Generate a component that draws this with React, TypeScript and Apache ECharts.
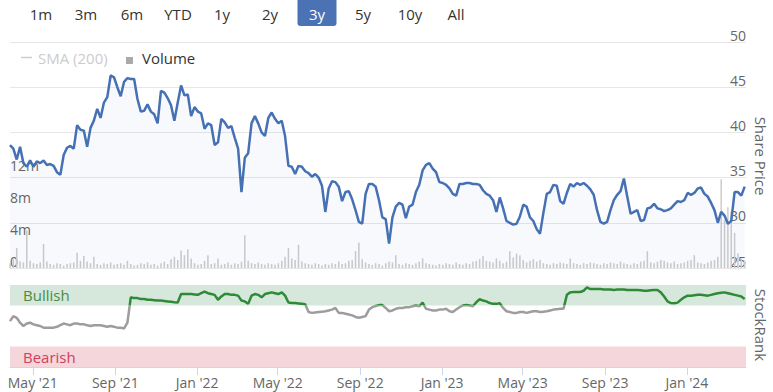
import React, { useEffect, useRef } from 'react';
import * as echarts from 'echarts';

// ---------- data ----------
const START_DATE = '2021-03-28';
const END_DATE = '2024-03-29';
const STEP_DAYS = 5;

// share price, one value every STEP_DAYS days
const PRICE = [
  38.6, 38.2, 37.0, 38.4, 36.6, 36.2, 36.9, 36.2, 36.8, 36.6,
  36.9, 36.4, 36.5, 36.3, 35.6, 35.3, 37.5, 38.3, 38.5, 38.2,
  40.8, 40.3, 40.2, 38.4, 40.5, 41.3, 42.6, 41.6, 43.3, 43.9,
  46.3, 46.1, 45.0, 44.0, 45.6, 46.0, 45.9, 45.9, 43.7, 42.3,
  42.4, 43.1, 42.3, 42.0, 41.0, 44.6, 44.4, 43.8, 43.0, 41.3,
  43.3, 45.2, 44.1, 44.2, 41.8, 42.8, 42.3, 42.1, 40.4, 41.0,
  40.8, 38.6, 38.9, 41.5, 41.1, 40.5, 40.7, 39.4, 38.2, 33.4,
  37.2, 37.7, 41.0, 41.8, 41.0, 40.0, 39.6, 41.6, 42.2, 41.5,
  41.0, 41.3, 39.6, 36.3, 36.2, 35.4, 36.3, 36.2, 35.7, 35.5,
  35.1, 35.4, 35.0, 34.1, 31.2, 33.8, 34.6, 34.5, 34.0, 32.4,
  33.4, 33.5, 32.6, 31.4, 30.1, 29.9, 33.2, 34.3, 34.3, 34.0,
  32.5, 30.6, 30.4, 27.7, 30.6, 31.8, 32.2, 32.0, 30.5, 31.8,
  32.0, 33.4, 34.2, 35.8, 36.4, 36.6, 36.0, 35.6, 34.5, 34.4,
  34.2, 33.8, 33.2, 33.0, 34.3, 34.3, 34.4, 34.4, 34.3, 34.3,
  34.2, 33.6, 33.2, 33.0, 32.5, 31.2, 32.8, 31.6, 30.2, 30.0,
  29.8, 29.9, 30.7, 32.0, 31.8, 30.6, 30.2, 29.3, 28.8, 31.1,
  33.2, 33.4, 34.2, 34.1, 32.4, 32.1, 33.3, 34.3, 34.0, 34.4,
  34.2, 34.4, 34.1, 33.7, 33.1, 31.4, 30.1, 29.9, 30.1, 31.4,
  32.5, 33.1, 33.5, 34.9, 32.9, 31.0, 31.2, 31.4, 30.2, 30.3,
  31.6, 31.7, 32.1, 31.6, 31.5, 31.3, 31.4, 31.6, 32.0, 32.4,
  32.3, 32.5, 33.3, 33.1, 33.3, 33.8, 33.9, 33.2, 32.9, 32.2,
  31.4, 30.0, 31.2, 30.8, 29.9, 30.2, 33.4, 33.4, 33.0, 34.0,
];

// volume in millions of shares
const VOLUME_M = [
  0.6, 1.1, 2.5, 0.8, 0.7, 4.7, 0.9, 0.6, 0.5, 0.7,
  3.0, 0.8, 0.5, 0.4, 0.6, 0.5, 0.3, 0.5, 0.6, 0.7,
  1.9, 0.9, 1.5, 0.8, 0.6, 1.4, 0.5, 0.4, 0.6, 0.5,
  0.7, 0.4, 0.5, 0.6, 0.4, 0.9, 0.5, 0.3, 0.4, 0.6,
  0.5, 0.7, 0.4, 0.5, 0.3, 0.6, 0.8, 0.5, 1.1, 1.4,
  1.0, 2.2, 1.6, 2.3, 1.2, 0.6, 0.4, 0.5, 0.9, 1.6,
  0.5, 0.6, 1.2, 0.4, 0.5, 0.7, 0.4, 0.6, 0.5, 0.8,
  4.1, 0.9, 0.6, 0.5, 0.7, 0.5, 0.4, 0.6, 0.5, 0.4,
  0.6, 0.9, 1.4, 2.5, 1.2, 1.0, 2.9, 0.8, 0.6, 0.5,
  0.4, 0.6, 0.5, 0.3, 0.5, 0.4, 0.6, 0.5, 0.8, 0.5,
  0.6, 0.9, 1.0, 2.1, 3.2, 1.1, 0.7, 0.5, 0.4, 0.6,
  0.5, 0.3, 0.6, 0.8, 0.7, 1.6, 0.5, 0.4, 0.6, 0.5,
  0.4, 0.6, 0.8, 1.2, 0.6, 0.5, 0.4, 0.3, 0.5, 0.4,
  0.6, 0.5, 0.4, 0.7, 0.5, 0.4, 0.6, 0.5, 0.8, 0.9,
  1.1, 1.5, 0.9, 0.8, 0.7, 1.2, 0.9, 0.6, 0.8, 2.1,
  1.3, 1.8, 1.6, 1.0, 0.7, 0.9, 1.1, 0.8, 1.0, 0.6,
  0.5, 0.4, 0.6, 0.5, 0.7, 0.6, 0.5, 1.2, 0.6, 0.5,
  0.4, 0.6, 0.5, 0.7, 0.6, 0.5, 0.4, 0.6, 0.5, 0.7,
  0.6, 0.5, 0.8, 0.6, 0.5, 0.4, 0.6, 0.5, 0.8, 0.9,
  2.1, 0.7, 0.6, 0.8, 1.0, 0.9, 0.7, 0.6, 0.8, 0.5,
  0.6, 0.7, 0.9, 1.0, 1.6, 0.7, 0.6, 0.5, 0.7, 0.9,
  1.0, 1.4, 11.1, 6.0, 7.6, 7.0, 4.4, 1.8, 1.2, 0.9,
];

// StockRank (0-100)
const STOCKRANK = [
  56, 62, 60, 54, 50, 53, 54, 52, 51, 50,
  48, 48, 48, 48, 49, 51, 53, 52, 51, 53,
  53, 52, 52, 51, 50, 51, 51, 51, 50, 49,
  50, 49, 48, 48, 47, 54, 85, 84, 84, 83,
  83, 82, 82, 81.5, 81, 81, 80.5, 80, 79.5, 79,
  78.6, 89, 89, 89, 89, 88.5, 88, 90, 92, 90,
  89, 88, 82, 86, 89, 89, 88, 88, 87, 81,
  80, 77, 87, 89, 88, 85, 89, 90, 91, 90,
  89, 91, 87, 78.6, 78, 78, 77.5, 77, 76.5, 67,
  66, 66.5, 67, 67.5, 68, 69, 70, 72, 66, 66,
  65, 64, 63, 61, 60, 61, 62, 70, 73, 74.4,
  75.5, 75.5, 72, 68, 69, 71, 72, 72, 73, 73,
  74, 75, 74, 78.6, 71, 70, 69, 69, 70, 70,
  71, 68, 67, 70, 73, 75, 75.5, 75, 74, 79,
  82.7, 81, 80, 78, 77, 77, 77.8, 72, 68, 67,
  66, 66, 67, 67, 66, 67, 68, 68, 67, 67.5,
  68, 69, 70, 70.5, 71, 71, 88, 91, 91.5, 91.5,
  91.5, 93, 97, 95, 95, 95, 95, 94.6, 94.6, 94.6,
  94, 94.6, 94.6, 94.6, 94, 93.8, 94, 93.8, 93.5, 93,
  93, 93.5, 93.8, 93.8, 91, 86, 80, 78, 77.8, 78.5,
  82, 85, 87, 87, 87.5, 88, 88, 87.5, 87, 88,
  89, 90, 90.5, 91, 90, 89, 88, 87, 86, 83,
];

const TICK_DATES = [
  '2021-05-01', '2021-09-01', '2022-01-01', '2022-05-01', '2022-09-01',
  '2023-01-01', '2023-05-01', '2023-09-01', '2024-01-01',
];
const MONTHS = ['Jan', 'Feb', 'Mar', 'Apr', 'May', 'Jun', 'Jul', 'Aug', 'Sep', 'Oct', 'Nov', 'Dec'];
const RANGE_BUTTONS = ['1m', '3m', '6m', 'YTD', '1y', '2y', '3y', '5y', '10y', 'All'];
const SELECTED_RANGE = '3y';
const BULLISH_RANGE = [75, 100];
const BEARISH_RANGE = [0, 25];
const GREEN_THRESHOLD = 76;

// ---------- layout (not data) ----------
const BUTTON_CENTERS = [41, 86, 132, 178, 222, 270, 317, 363, 410, 456];
const FONT = '"Open Sans", "Noto Sans", sans-serif';

const DAY = 86400000;
const parseUTC = (s: string) => Date.parse(s + 'T00:00:00Z');

const App = () => {
  const ref = useRef<HTMLDivElement>(null);

  useEffect(() => {
    if (!ref.current) return;
    const chart = echarts.init(ref.current, null, { renderer: 'svg' });

    const t0 = parseUTC(START_DATE);
    const xMax = parseUTC(END_DATE);
    const times = PRICE.map((_, i) => t0 + i * STEP_DAYS * DAY);
    const tickTimes = TICK_DATES.map(parseUTC);
    const fmtDate = (v: number) => {
      const d = new Date(v);
      return `${MONTHS[d.getUTCMonth()]} '${String(d.getUTCFullYear()).slice(2)}`;
    };

    const textStyle = (text: string, fill: string, align: string) => ({
      text, fill, font: `15px ${FONT}`,
      align, verticalAlign: 'middle', textAlign: align, textVerticalAlign: 'middle',
    });

    const graphic: any[] = [];
    RANGE_BUTTONS.forEach((b, i) => {
      const sel = b === SELECTED_RANGE;
      if (sel) {
        graphic.push({
          type: 'rect',
          shape: { x: BUTTON_CENTERS[i] - 19.5, y: -3, width: 39, height: 29, r: 3 },
          style: { fill: '#4b72b4' },
        });
      }
      graphic.push({
        type: 'text', x: BUTTON_CENTERS[i], y: 13.5,
        style: textStyle(b, sel ? '#ffffff' : '#333333', 'center'),
      });
    });
    graphic.push(
      { type: 'line', shape: { x1: 21, y1: 57.5, x2: 32, y2: 57.5 }, style: { stroke: '#cccccc', lineWidth: 1.5 } },
      { type: 'text', x: 38, y: 58, style: textStyle('SMA (200)', '#cccccc', 'left') },
      { type: 'rect', shape: { x: 126, y: 57, width: 7, height: 7 }, style: { fill: '#aaaaaa' } },
      { type: 'text', x: 142, y: 58, style: textStyle('Volume', '#333333', 'left') },
      { type: 'text', x: 761, y: 156, rotation: -Math.PI / 2, style: textStyle('Share Price', '#666666', 'center') },
      { type: 'text', x: 761, y: 325, rotation: -Math.PI / 2, style: textStyle('StockRank', '#666666', 'center') },
    );

    const option: any = {
      animation: false,
      backgroundColor: '#ffffff',
      textStyle: { fontFamily: FONT },
      graphic,
      grid: [
        { left: 10, right: 27, top: 42, height: 226 },
        { left: 10, right: 27, top: 285, height: 82 },
      ],
      xAxis: [
        { type: 'value', gridIndex: 0, min: t0, max: xMax, show: false },
        {
          type: 'value', gridIndex: 1, min: t0, max: xMax,
          axisLine: { show: true, lineStyle: { color: '#ccd6eb', width: 1 } },
          axisTick: { show: true, customValues: tickTimes, length: 8, lineStyle: { color: '#ccd6eb' } },
          axisLabel: {
            show: true, customValues: tickTimes, formatter: (v: number) => fmtDate(v),
            color: '#666666', fontSize: 14, margin: 8, fontFamily: FONT,
          },
          splitLine: { show: false },
        },
      ],
      yAxis: [
        {
          type: 'value', gridIndex: 0, position: 'right', min: 25, max: 50, interval: 5,
          axisLine: { show: false }, axisTick: { show: false },
          splitLine: { show: true, lineStyle: { color: '#e6e6e6' } },
          axisLabel: { inside: true, verticalAlign: 'bottom', margin: 0, color: '#666666', fontSize: 14, fontFamily: FONT },
        },
        {
          type: 'value', gridIndex: 0, position: 'left', min: 0, max: 28.25, interval: 4,
          axisLine: { show: false }, axisTick: { show: false }, splitLine: { show: false },
          axisLabel: {
            inside: true, verticalAlign: 'bottom', margin: 0, color: '#666666', fontSize: 14, fontFamily: FONT,
            formatter: (v: number) => (v > 12 ? '' : v === 0 ? '0' : `${v}m`),
          },
        },
        {
          type: 'value', gridIndex: 1, position: 'right', min: 0, max: 100, interval: 100,
          axisLine: { show: false }, axisTick: { show: false },
          splitLine: { show: true, lineStyle: { color: '#e6e6e6' } },
          axisLabel: {
            inside: true, verticalAlign: 'bottom', margin: 4, color: '#666666', fontSize: 14, fontFamily: FONT,
            formatter: (v: number) => (v === 0 ? '0' : ''),
          },
        },
      ],
      visualMap: {
        type: 'piecewise', show: false, seriesIndex: 3, dimension: 1,
        pieces: [
          { gte: 0, lt: GREEN_THRESHOLD, color: '#9d9d9d' },
          { gte: GREEN_THRESHOLD, lte: 100, color: '#2f8a37' },
        ],
        outOfRange: { color: '#9d9d9d' },
      },
      series: [
        {
          name: 'Volume', type: 'bar', xAxisIndex: 0, yAxisIndex: 1, silent: true,
          barWidth: 1.5, z: 1,
          itemStyle: { color: '#cccccc' },
          data: times.map((t, i) => [t, VOLUME_M[i]]),
        },
        {
          name: 'Share Price', type: 'line', xAxisIndex: 0, yAxisIndex: 0, silent: true,
          showSymbol: false, z: 3,
          lineStyle: { color: '#4571b4', width: 2.5 },
          itemStyle: { color: '#4571b4' },
          areaStyle: { color: 'rgba(69,114,182,0.055)', origin: 'start' },
          data: times.map((t, i) => [t, PRICE[i]]),
        },
        {
          name: 'Bands', type: 'line', xAxisIndex: 1, yAxisIndex: 2, silent: true,
          showSymbol: false, lineStyle: { opacity: 0 },
          data: [],
          markArea: {
            silent: true,
            data: [
              [
                {
                  yAxis: BULLISH_RANGE[0], itemStyle: { color: '#d5e8db' },
                  label: { show: true, formatter: 'Bullish', position: 'insideLeft', distance: 13, color: '#4d8b3b', fontSize: 15, fontFamily: FONT },
                },
                { yAxis: BULLISH_RANGE[1] },
              ],
              [
                {
                  yAxis: BEARISH_RANGE[0], itemStyle: { color: '#f4d6db' },
                  label: { show: true, formatter: 'Bearish', position: 'insideLeft', distance: 13, color: '#d3405c', fontSize: 15, fontFamily: FONT },
                },
                { yAxis: BEARISH_RANGE[1] },
              ],
            ],
          },
        },
        {
          name: 'StockRank', type: 'line', xAxisIndex: 1, yAxisIndex: 2, silent: true,
          showSymbol: false, z: 3,
          lineStyle: { width: 2.5 },
          data: times.map((t, i) => [t, STOCKRANK[i]]),
        },
      ],
    };

    chart.setOption(option);
    return () => chart.dispose();
  }, []);

  return (
    <div
      ref={ref}
      style={{ position: 'fixed', left: 0, top: 0, width: 773, height: 392, background: '#fff' }}
    />
  );
};

export default App;
